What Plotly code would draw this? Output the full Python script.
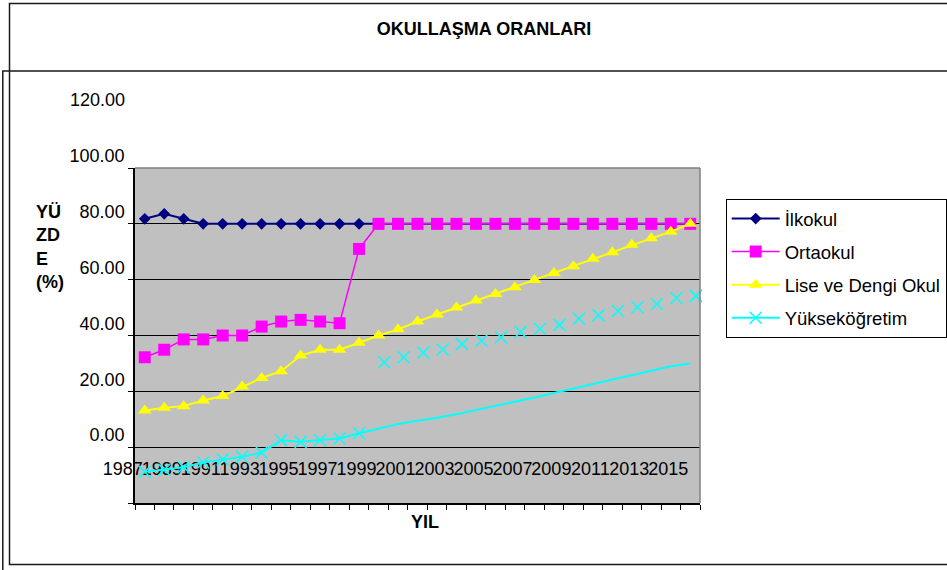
import plotly.graph_objects as go

# ---- data ----
years = [1987, 1988, 1989, 1990, 1991, 1992, 1993, 1994, 1995, 1996, 1997, 1998, 1999, 2000,
         2001, 2002, 2003, 2004, 2005, 2006, 2007, 2008, 2009, 2010, 2011, 2012, 2013, 2014, 2015]
year_labels = ["1987", "1989", "1991", "1993", "1995", "1997", "1999", "2001",
               "2003", "2005", "2007", "2009", "2011", "2013", "2015"]
ilkokul = [81.8, 83.6, 81.8, 80.0, 80.0, 80.0, 80.0, 80.0, 80.0, 80.0, 80.0, 80.0, 80.0, 80.0,
           80.0, 80.0, 80.0, 80.0, 80.0, 80.0, 80.0, 80.0, 80.0, 80.0, 80.0, 80.0, 80.0, 80.0, 80.0]
ortaokul = [32.2, 34.9, 38.6, 38.6, 40.0, 40.0, 43.2, 45.0, 45.6, 45.0, 44.4, 71.0, 80.0, 80.0,
            80.0, 80.0, 80.0, 80.0, 80.0, 80.0, 80.0, 80.0, 80.0, 80.0, 80.0, 80.0, 80.0, 80.0, 80.0]
lise = [13.1, 14.1, 14.7, 16.7, 18.3, 21.7, 24.8, 27.2, 32.8, 34.9, 34.9, 37.4, 40.0, 42.2,
        45.0, 47.5, 50.0, 52.5, 54.9, 57.3, 59.9, 62.4, 64.8, 67.5, 69.8, 72.5, 74.8, 77.2, 80.0]
yuksek_line = [-8.8, -8.1, -7.2, -5.5, -4.4, -3.4, -1.9, 2.5, 1.9, 2.5, 3.1, 5.0, 6.6, 8.3,
               9.5, 10.5, 11.8, 13.3, 14.6, 16.3, 17.8, 19.4, 21.0, 22.4, 24.2, 25.8, 27.3, 29.0, 30.0]
yuksek_marker_years = [1999, 2000, 2001, 2002, 2003, 2004, 2005, 2006, 2007, 2008, 2009,
                       2010, 2011, 2012, 2013, 2014, 2015]
yuksek_markers = [30.4, 32.2, 33.8, 35.0, 36.9, 38.2, 39.4, 41.3, 42.4, 43.8, 46.0, 47.2,
                  48.8, 50.1, 51.3, 53.4, 54.2]
y_ticks = [-20, 0, 20, 40, 60, 80, 100]
y_ticktext = ["", "0.00", "20.00", "40.00", "60.00", "80.00", "100.00"]

# ---- layout geometry ----
W, H = 947, 570
ML, MR, MT, MB = 135, 247, 168, 67
PW, PH = W - ML - MR, H - MT - MB
YMIN, YMAX = -20, 100
XMIN, XMAX = years[0] - 0.5, years[-1] + 0.5
MARKER_XSHIFT = 0.29  # rendering offset of the later Yükseköğretim markers

def px(x):
    return (x - ML) / PW

def py(y):
    return (H - MB - y) / PH

FONT = "Liberation Sans, Arial, sans-serif"

fig = go.Figure()

fig.add_trace(go.Scatter(
    x=years, y=ilkokul, name="İlkokul", mode="lines+markers", legendgroup="a",
    line=dict(color="#000080", width=2),
    marker=dict(symbol="diamond", size=9, color="#000080")))
fig.add_trace(go.Scatter(
    x=years, y=ortaokul, name="Ortaokul", mode="lines+markers", legendgroup="b",
    line=dict(color="#FF00FF", width=1.5),
    marker=dict(symbol="square", size=12, color="#FF00FF")))
fig.add_trace(go.Scatter(
    x=years, y=lise, name="Lise ve Dengi Okul", mode="lines+markers", legendgroup="c",
    line=dict(color="#FFFF00", width=2),
    marker=dict(symbol="triangle-up", size=12, color="#FFFF00")))
fig.add_trace(go.Scatter(
    x=years[:12], y=yuksek_line[:12], name="Yükseköğretim", mode="lines+markers",
    legendgroup="d",
    line=dict(color="#00FFFF", width=2),
    marker=dict(symbol="x-thin", size=12, color="#00FFFF",
                line=dict(color="#00FFFF", width=1.5))))
fig.add_trace(go.Scatter(
    x=years[11:], y=yuksek_line[11:], name="Yükseköğretim", mode="lines",
    legendgroup="d", showlegend=False,
    line=dict(color="#00FFFF", width=2)))
fig.add_trace(go.Scatter(
    x=yuksek_marker_years, y=yuksek_markers, name="Yükseköğretim", mode="markers",
    legendgroup="d", showlegend=False, xaxis="x2", cliponaxis=False,
    marker=dict(symbol="x-thin", size=12, color="#00FFFF",
                line=dict(color="#00FFFF", width=1.5))))

tick_font = dict(family=FONT, size=18, color="#000000")

shapes = [
    dict(type="line", xref="paper", yref="paper", x0=0, x1=1, y0=1, y1=1,
         line=dict(color="#808080", width=1.5), layer="above"),
    dict(type="line", xref="paper", yref="paper", x0=1, x1=1, y0=0, y1=1,
         line=dict(color="#808080", width=1.5), layer="above"),
    dict(type="rect", xref="paper", yref="paper", x0=px(9.5), x1=px(990), y0=py(3.5), y1=py(564.5),
         line=dict(color="#1a1a1a", width=1.5), fillcolor="rgba(0,0,0,0)", layer="above"),
    dict(type="rect", xref="paper", yref="paper", x0=px(2.8), x1=px(990), y0=py(71), y1=py(600),
         line=dict(color="#1a1a1a", width=1.5), fillcolor="rgba(0,0,0,0)", layer="above"),
]

annotations = [
    dict(text="120.00", xref="paper", yref="paper", x=px(127), xanchor="right",
         y=(120 - YMIN) / (YMAX - YMIN), yanchor="middle", yshift=12,
         showarrow=False, font=tick_font),
    dict(text="<b>YÜ<br>ZD<br>E<br>(%)</b>", xref="paper", yref="paper", x=px(34), xanchor="left",
         y=py(247), yanchor="middle", align="left", showarrow=False,
         font=dict(family=FONT, size=18, color="#000000")),
    dict(text="<b>YIL</b>", xref="paper", yref="paper", x=px(424.5), xanchor="center",
         y=py(521.5), yanchor="middle", showarrow=False,
         font=dict(family=FONT, size=18, color="#000000")),
]

fig.update_layout(
    width=W, height=H,
    margin=dict(l=ML, r=MR, t=MT, b=MB, autoexpand=False),
    paper_bgcolor="white", plot_bgcolor="#C0C0C0",
    title=dict(text="<b>OKULLAŞMA ORANLARI</b>", x=484 / W, xanchor="center",
               xref="container", yref="container", y=1 - 29 / H, yanchor="middle",
               font=dict(family=FONT, size=18, color="#000000")),
    xaxis=dict(
        range=[XMIN, XMAX], tickmode="array",
        tickvals=years[::2], ticktext=year_labels, tickangle=0,
        ticks="", showgrid=False, zeroline=False, layer="below traces",
        showline=True, linecolor="#000000", linewidth=1.5,
        ticklabelposition="inside", ticklabelstandoff=25, ticklabelshift=-22,
        ticklabeloverflow="allow",
        tickfont=tick_font,
        minor=dict(tickmode="array", tickvals=[y - 0.5 for y in years] + [years[-1] + 0.5],
                   ticks="outside", ticklen=5, tickcolor="#000000", tickwidth=1, showgrid=False),
    ),
    xaxis2=dict(range=[XMIN - MARKER_XSHIFT, XMAX - MARKER_XSHIFT], overlaying="x",
                visible=False, showgrid=False, zeroline=False),
    yaxis=dict(
        range=[YMIN, YMAX], tickmode="array", tickvals=y_ticks, ticktext=y_ticktext,
        ticks="outside", ticklen=5, tickcolor="#000000", tickwidth=1,
        showgrid=True, gridcolor="#000000", gridwidth=1, zeroline=False,
        showline=True, linecolor="#000000", linewidth=1.5,
        ticklabelshift=-12, ticklabeloverflow="allow", tickfont=tick_font,
    ),
    legend=dict(
        x=px(725.7), xanchor="left", y=py(199), yanchor="top",
        bgcolor="white", bordercolor="#000000", borderwidth=1,
        font=dict(family=FONT, size=18.5, color="#000000"),
        tracegroupgap=6, itemwidth=48,
    ),
    shapes=shapes, annotations=annotations,
    showlegend=True,
)

fig.write_html("out.html", config={"displayModeBar": False},
               post_script="document.body.style.margin='0px';")
